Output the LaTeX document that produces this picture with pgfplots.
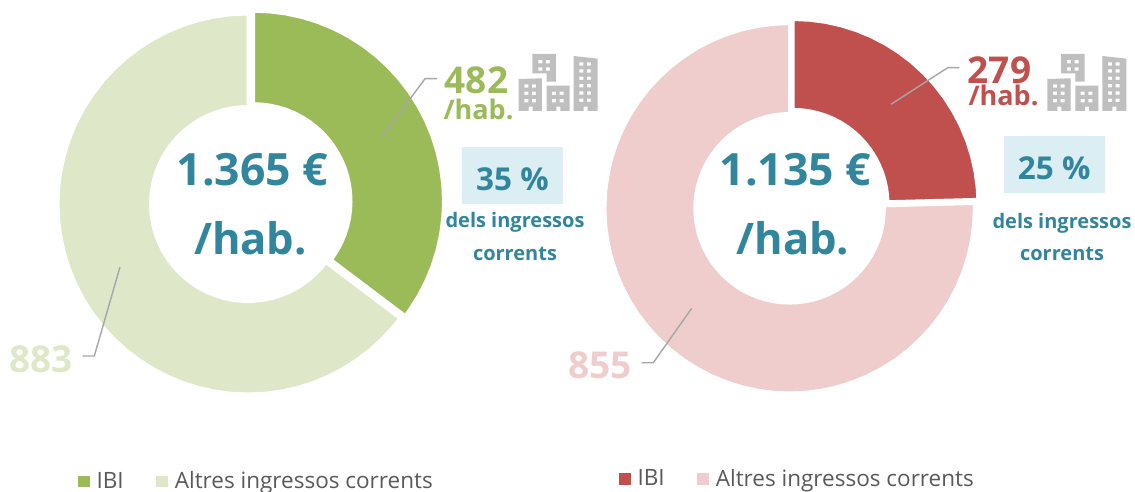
\documentclass[border=0pt]{standalone}
\usepackage{pgfplots}
\pgfplotsset{compat=1.18}
\usepackage{fontspec}
\setmainfont{Open Sans}
\definecolor{ibigreen}{HTML}{9BBB59}
\definecolor{altgreen}{HTML}{DEE8C8}
\definecolor{ibired}{HTML}{C0504D}
\definecolor{altred}{HTML}{EFCDCD}
\definecolor{teal}{HTML}{31859C}
\definecolor{boxblue}{HTML}{DAEEF3}
\definecolor{lead}{HTML}{A6A6A6}
\definecolor{bgray}{HTML}{BFBFBF}
\definecolor{legtext}{HTML}{595959}
\newcommand{\fs}[1]{\fontsize{#1}{#1}\selectfont}
\newcommand{\icon}[2]{%
 \fill[bgray,even odd rule,shift={(axis cs:#1,#2)},x=0.3333pt,y=-0.3333pt]
  (337,72)--(408,72)--(408,155)--(380,155)--(380,130)--(337,130)--cycle
  (355,90) rectangle (367,100) (378,90) rectangle (390,100)
  (355,112) rectangle (367,122) (378,112) rectangle (390,122);
 \fill[bgray,even odd rule,shift={(axis cs:#1,#2)},x=0.3333pt,y=-0.3333pt]
  (296,147)--(366,145)--(366,243)--(338,243)--(338,230)--(326,230)--(326,243)--(296,243)--cycle
  (313,163) rectangle (325,173) (336,163) rectangle (348,173)
  (313,185) rectangle (325,195) (336,185) rectangle (348,195)
  (313,207) rectangle (325,217) (336,207) rectangle (348,217);
 \fill[bgray,even odd rule,shift={(axis cs:#1,#2)},x=0.3333pt,y=-0.3333pt]
  (380,167)--(449,167)--(449,243)--(421,243)--(421,230)--(409,230)--(409,243)--(380,243)--cycle
  (396,185) rectangle (408,195) (419,185) rectangle (431,195)
  (396,207) rectangle (408,217) (419,207) rectangle (431,217);
 \fill[bgray,even odd rule,shift={(axis cs:#1,#2)},x=0.3333pt,y=-0.3333pt]
  (461,78)--(533,86)--(533,243)--(503,243)--(503,230)--(491,230)--(491,243)--(461,243)--cycle
  (478,97) rectangle (490,107) (501,97) rectangle (513,107)
  (478,118) rectangle (490,128) (501,118) rectangle (513,128)
  (478,140) rectangle (490,150) (501,140) rectangle (513,150)
  (478,162) rectangle (490,172) (501,162) rectangle (513,172)
  (478,184) rectangle (490,194) (501,184) rectangle (513,194)
  (478,206) rectangle (490,216) (501,206) rectangle (513,216);
}
\pgfplotsset{donut/.style={
  width=567.5pt,height=491pt,scale only axis,hide axis,clip=false,
  ymin=0,ymax=491,
  legend cell align=left,
  legend columns=2,
  legend style={draw=none,fill=none,inner sep=0pt,outer sep=0pt,anchor=west,
    font=\fs{22.5}\color{legtext},
    /tikz/every even column/.append style={column sep=30.5pt}}},
  slice/.style={fill=#1,draw=white,line width=3pt,line join=miter,forget plot},
  swatch/.style={legend image code/.code={\fill[#1] (0pt,-5.2pt) rectangle (10.6pt,5.2pt); \path (16.2pt,0pt);}},
}
\begin{document}
\begin{tikzpicture}
\path[use as bounding box] (0,0) rectangle (1135pt,491pt);
\begin{axis}[donut,at={(0pt,0pt)},anchor=south west,xmin=0,xmax=567.5,
  legend style={at={(axis cs:78,10)}}]
\addlegendimage{swatch=ibigreen}
\addlegendentry{IBI}
\addlegendimage{swatch=altgreen}
\addlegendentry{Altres ingressos corrents}
\addplot[slice=ibigreen,data cs=polar,shift={(axis direction cs:253.5,289.8)}] coordinates {
(90,190)(85,190)(80,190)(75,190)(70,190)(65,190)(60,190)(55,190)(50,190)(45,190)(40,190)(35,190)(30,190)(25,190)(20,190)(15,190)(10,190)(5,190)(0,190)(-5,190)(-10,190)(-15,190)(-20,190)(-25,190)(-30,190)(-35,190)(-37,190)
(-37,97.5)(-35,97.5)(-30,97.5)(-25,97.5)(-20,97.5)(-15,97.5)(-10,97.5)(-5,97.5)(0,97.5)(5,97.5)(10,97.5)(15,97.5)(20,97.5)(25,97.5)(30,97.5)(35,97.5)(40,97.5)(45,97.5)(50,97.5)(55,97.5)(60,97.5)(65,97.5)(70,97.5)(75,97.5)(80,97.5)(85,97.5)(90,97.5)
} --cycle;
\addplot[slice=altgreen,data cs=polar,shift={(axis direction cs:248,287)}] coordinates {
(-37,190)(-40,190)(-45,190)(-50,190)(-55,190)(-60,190)(-65,190)(-70,190)(-75,190)(-80,190)(-85,190)(-90,190)(-95,190)(-100,190)(-105,190)(-110,190)(-115,190)(-120,190)(-125,190)(-130,190)(-135,190)(-140,190)(-145,190)(-150,190)(-155,190)(-160,190)(-165,190)(-170,190)(-175,190)(-180,190)(-185,190)(-190,190)(-195,190)(-200,190)(-205,190)(-210,190)(-215,190)(-220,190)(-225,190)(-230,190)(-235,190)(-240,190)(-245,190)(-250,190)(-255,190)(-260,190)(-265,190)(-270,190)
(-270,97.5)(-265,97.5)(-260,97.5)(-255,97.5)(-250,97.5)(-245,97.5)(-240,97.5)(-235,97.5)(-230,97.5)(-225,97.5)(-220,97.5)(-215,97.5)(-210,97.5)(-205,97.5)(-200,97.5)(-195,97.5)(-190,97.5)(-185,97.5)(-180,97.5)(-175,97.5)(-170,97.5)(-165,97.5)(-160,97.5)(-155,97.5)(-150,97.5)(-145,97.5)(-140,97.5)(-135,97.5)(-130,97.5)(-125,97.5)(-120,97.5)(-115,97.5)(-110,97.5)(-105,97.5)(-100,97.5)(-95,97.5)(-90,97.5)(-85,97.5)(-80,97.5)(-75,97.5)(-70,97.5)(-65,97.5)(-60,97.5)(-55,97.5)(-50,97.5)(-45,97.5)(-40,97.5)(-37,97.5)
} --cycle;
\addplot[lead,line width=1.4pt,forget plot] coordinates {(381.7,353.7)(425,412.3)(437,412.3)};
\addplot[lead,line width=1.4pt,forget plot] coordinates {(82.3,135)(94.3,135)(120,224)};
\node[anchor=base,text=teal,font=\fs{44.5}\bfseries] at (axis cs:252.5,305.3) {1.365 €};
\node[anchor=base,text=teal,font=\fs{43.5}\bfseries] at (axis cs:250.5,236) {/hab.};
\node[anchor=base,text=ibigreen,font=\fs{37}\bfseries] at (axis cs:476.5,397) {482};
\node[anchor=base,text=ibigreen,font=\fs{27}\bfseries] at (axis cs:478.5,371.7) {/hab.};
\node[anchor=base,text=altgreen,font=\fs{37}\bfseries] at (axis cs:41,118.7) {883};
\fill[boxblue] (axis cs:462,344) rectangle (axis cs:563,287.3);
\node[anchor=base,text=teal,font=\fs{31.5}\bfseries] at (axis cs:512.5,300) {35 \%};
\node[anchor=base,text=teal,font=\fs{20}\bfseries] at (axis cs:515,263.7) {dels ingressos};
\node[anchor=base,text=teal,font=\fs{20}\bfseries] at (axis cs:515,230.3) {corrents};
\icon{420}{461}
\end{axis}
\begin{axis}[donut,at={(567.5pt,0pt)},anchor=south west,xmin=567.5,xmax=1135,
  legend style={at={(axis cs:619,12.5)}}]
\addlegendimage{swatch=ibired}
\addlegendentry{IBI}
\addlegendimage{swatch=altred}
\addlegendentry{Altres ingressos corrents}
\addplot[slice=ibired,data cs=polar,shift={(axis direction cs:793.2,286.8)}] coordinates {
(90,184.7)(85,184.7)(80,184.7)(75,184.7)(70,184.7)(65,184.7)(60,184.7)(55,184.7)(50,184.7)(45,184.7)(40,184.7)(35,184.7)(30,184.7)(25,184.7)(20,184.7)(15,184.7)(10,184.7)(5,184.7)(1.5,184.7)
(1.5,94.8)(5,94.8)(10,94.8)(15,94.8)(20,94.8)(25,94.8)(30,94.8)(35,94.8)(40,94.8)(45,94.8)(50,94.8)(55,94.8)(60,94.8)(65,94.8)(70,94.8)(75,94.8)(80,94.8)(85,94.8)(90,94.8)
} --cycle;
\addplot[slice=altred,data cs=polar,shift={(axis direction cs:789.6,282.7)}] coordinates {
(1.5,184.7)(0,184.7)(-5,184.7)(-10,184.7)(-15,184.7)(-20,184.7)(-25,184.7)(-30,184.7)(-35,184.7)(-40,184.7)(-45,184.7)(-50,184.7)(-55,184.7)(-60,184.7)(-65,184.7)(-70,184.7)(-75,184.7)(-80,184.7)(-85,184.7)(-90,184.7)(-95,184.7)(-100,184.7)(-105,184.7)(-110,184.7)(-115,184.7)(-120,184.7)(-125,184.7)(-130,184.7)(-135,184.7)(-140,184.7)(-145,184.7)(-150,184.7)(-155,184.7)(-160,184.7)(-165,184.7)(-170,184.7)(-175,184.7)(-180,184.7)(-185,184.7)(-190,184.7)(-195,184.7)(-200,184.7)(-205,184.7)(-210,184.7)(-215,184.7)(-220,184.7)(-225,184.7)(-230,184.7)(-235,184.7)(-240,184.7)(-245,184.7)(-250,184.7)(-255,184.7)(-260,184.7)(-265,184.7)(-270,184.7)
(-270,94.8)(-265,94.8)(-260,94.8)(-255,94.8)(-250,94.8)(-245,94.8)(-240,94.8)(-235,94.8)(-230,94.8)(-225,94.8)(-220,94.8)(-215,94.8)(-210,94.8)(-205,94.8)(-200,94.8)(-195,94.8)(-190,94.8)(-185,94.8)(-180,94.8)(-175,94.8)(-170,94.8)(-165,94.8)(-160,94.8)(-155,94.8)(-150,94.8)(-145,94.8)(-140,94.8)(-135,94.8)(-130,94.8)(-125,94.8)(-120,94.8)(-115,94.8)(-110,94.8)(-105,94.8)(-100,94.8)(-95,94.8)(-90,94.8)(-85,94.8)(-80,94.8)(-75,94.8)(-70,94.8)(-65,94.8)(-60,94.8)(-55,94.8)(-50,94.8)(-45,94.8)(-40,94.8)(-35,94.8)(-30,94.8)(-25,94.8)(-20,94.8)(-15,94.8)(-10,94.8)(-5,94.8)(0,94.8)(1.5,94.8)
} --cycle;
\addplot[lead,line width=1.4pt,forget plot] coordinates {(891,386.7)(947.7,423.3)(959.3,423.3)};
\addplot[lead,line width=1.4pt,forget plot] coordinates {(641.7,128.3)(653.3,128.3)(691.7,182.7)};
\node[anchor=base,text=teal,font=\fs{44.5}\bfseries] at (axis cs:795.3,305.3) {1.135 €};
\node[anchor=base,text=teal,font=\fs{43.5}\bfseries] at (axis cs:793,236) {/hab.};
\node[anchor=base,text=ibired,font=\fs{37}\bfseries] at (axis cs:999.5,407.7) {279};
\node[anchor=base,text=ibired,font=\fs{27}\bfseries] at (axis cs:1003.5,385) {/hab.};
\node[anchor=base,text=altred,font=\fs{37}\bfseries] at (axis cs:600,112.7) {855};
\fill[boxblue] (axis cs:1004,355) rectangle (axis cs:1105,298.3);
\node[anchor=base,text=teal,font=\fs{31.5}\bfseries] at (axis cs:1054.2,311) {25 \%};
\node[anchor=base,text=teal,font=\fs{20}\bfseries] at (axis cs:1062,262.7) {dels ingressos};
\node[anchor=base,text=teal,font=\fs{20}\bfseries] at (axis cs:1062,230.3) {corrents};
\icon{948.67}{461}
\end{axis}
\end{tikzpicture}
\end{document}
